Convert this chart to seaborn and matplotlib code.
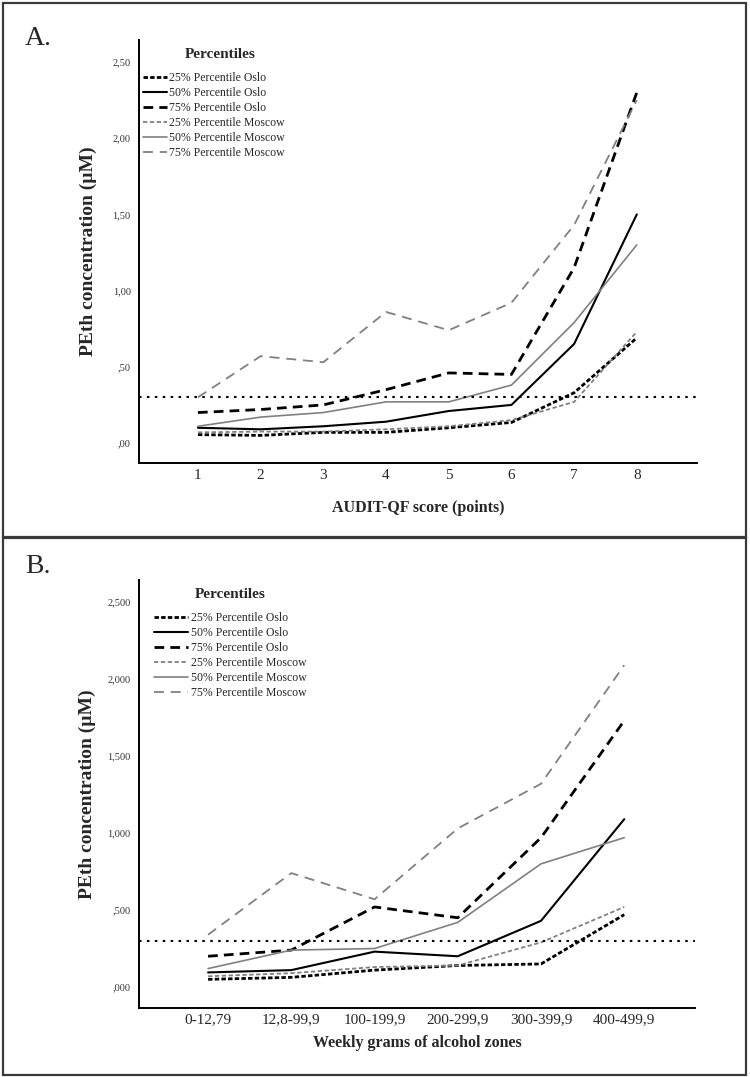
import matplotlib
matplotlib.use("Agg")
import matplotlib.pyplot as plt
from matplotlib.patches import Rectangle
import pandas as pd
import seaborn as sns

# Panel A - AUDIT-QF score (points)
audit_scores = [1, 2, 3, 4, 5, 6, 7, 8]
a_p25_oslo = [0.055, 0.05, 0.07, 0.07, 0.10, 0.135, 0.33, 0.69]
a_p50_oslo = [0.10, 0.09, 0.11, 0.14, 0.21, 0.25, 0.65, 1.50]
a_p75_oslo = [0.20, 0.22, 0.25, 0.35, 0.46, 0.45, 1.15, 2.30]
a_p25_moscow = [0.07, 0.075, 0.075, 0.09, 0.11, 0.15, 0.27, 0.73]
a_p50_moscow = [0.11, 0.17, 0.20, 0.27, 0.27, 0.38, 0.79, 1.30]
a_p75_moscow = [0.30, 0.57, 0.53, 0.86, 0.74, 0.92, 1.43, 2.25]
a_yticklabels = [",00", ",50", "1,00", "1,50", "2,00", "2,50"]

# Panel B - weekly grams of alcohol
alcohol_zones = ["0-12,79", "12,8-99,9", "100-199,9", "200-299,9", "300-399,9", "400-499,9"]
b_p25_oslo = [0.05, 0.063, 0.11, 0.14, 0.15, 0.47]
b_p50_oslo = [0.095, 0.11, 0.23, 0.20, 0.43, 1.09]
b_p75_oslo = [0.20, 0.24, 0.52, 0.45, 0.97, 1.73]
b_p25_moscow = [0.07, 0.09, 0.13, 0.14, 0.29, 0.52]
b_p50_moscow = [0.12, 0.24, 0.25, 0.42, 0.80, 0.97]
b_p75_moscow = [0.34, 0.74, 0.57, 1.03, 1.32, 2.09]
b_yticklabels = [",000", ",500", "1,000", "1,500", "2,000", "2,500"]

series_names = ["25% Percentile Oslo", "50% Percentile Oslo", "75% Percentile Oslo",
                "25% Percentile Moscow", "50% Percentile Moscow", "75% Percentile Moscow"]
ytick_values = [0, 0.5, 1.0, 1.5, 2.0, 2.5]
cutoff = 0.3

GRAY = "#808080"
palette = {series_names[0]: "black", series_names[1]: "black", series_names[2]: "black",
           series_names[3]: GRAY, series_names[4]: GRAY, series_names[5]: GRAY}
sizes = {series_names[0]: 2.0, series_names[1]: 1.5, series_names[2]: 2.0,
         series_names[3]: 1.3, series_names[4]: 1.2, series_names[5]: 1.3}
dashes = {series_names[0]: (1.6, 0.8), series_names[1]: "", series_names[2]: (3.5, 2.2),
          series_names[3]: (2.4, 1.4), series_names[4]: "", series_names[5]: (5.5, 3.8)}


def long_df(x, cols):
    rows = []
    for name, vals in zip(series_names, cols):
        for xi, v in zip(x, vals):
            rows.append({"x": xi, "value": v, "series": name})
    return pd.DataFrame(rows)


sns.set_style("white")
plt.rcParams["font.family"] = ["Liberation Serif", "DejaVu Serif"]

W, H = 750, 1077
fig = plt.figure(figsize=(7.5, 10.77), dpi=100)


def fx(px):
    return px / W


def fy(py):
    return 1 - py / H


def draw_panel(ax, df, letter, letter_y, xlabel, yticklabels, leg_top, handlelen, leg_x,
               title_xy):
    sns.lineplot(data=df, x="x", y="value", hue="series", style="series", size="series",
                 palette=palette, sizes=sizes, dashes=dashes, sort=False, ax=ax, legend="full")
    ax.axhline(cutoff, color="black", lw=1.5, dashes=(1.2, 2.6))
    sns.despine(ax=ax)
    for s in ["left", "bottom"]:
        ax.spines[s].set_linewidth(1.4)
        ax.spines[s].set_color("black")
    ax.tick_params(length=0)
    ax.set_yticks(ytick_values)
    ax.set_yticklabels(yticklabels, fontsize=7.5, color="#333333")
    ax.tick_params(axis="y", pad=6)
    ax.tick_params(axis="x", labelsize=11, pad=4)
    ax.set_ylabel("PEth concentration (\u00b5M)", fontsize=14, fontweight="bold")
    ax.set_xlabel(xlabel, fontsize=11.5, fontweight="bold")

    old = ax.get_legend()
    handles = old.legend_handles
    labels = [t.get_text() for t in old.get_texts()]
    old.remove()
    ax.legend(handles, labels, loc="upper left",
              bbox_to_anchor=(fx(leg_x), fy(leg_top)), bbox_transform=fig.transFigure,
              frameon=False, fontsize=8.5,
              handlelength=handlelen, handletextpad=0.2, labelspacing=0.26, borderpad=0,
              borderaxespad=0)
    fig.text(fx(title_xy[0]), fy(title_xy[1]), "Percentiles", fontsize=11, fontweight="bold",
             ha="center", va="center")
    fig.text(fx(25), fy(letter_y), letter, fontsize=20, va="baseline", ha="left")


# Panel A
axA = fig.add_axes([fx(139), fy(463), fx(697) - fx(139), fy(40) - fy(463)])
dfA = long_df(audit_scores, [a_p25_oslo, a_p50_oslo, a_p75_oslo,
                             a_p25_moscow, a_p50_moscow, a_p75_moscow])
draw_panel(axA, dfA, "A.", 45, "AUDIT-QF score (points)", a_yticklabels, 72, 2.0, 143, (220, 55))
axA.set_xticks(audit_scores)
axA.set_xlim(0.06, 8.96)
axA.set_ylim(-0.131, 2.644)
axA.xaxis.set_label_coords(0.5, (fy(508) - fy(463)) / (fy(40) - fy(463)))
axA.yaxis.set_label_coords((88 - 139) / (697 - 139), 0.5)
axA.yaxis.label.set_va("center")

# Panel B
axB = fig.add_axes([fx(139), fy(1008), fx(695) - fx(139), fy(580) - fy(1008)])
dfB = long_df(alcohol_zones, [b_p25_oslo, b_p50_oslo, b_p75_oslo,
                              b_p25_moscow, b_p50_moscow, b_p75_moscow])
draw_panel(axB, dfB, "B.", 573, "Weekly grams of alcohol zones", b_yticklabels, 612, 2.9, 154,
           (230, 595))
axB.set_xlim(-0.83, 5.85)
axB.set_ylim(-0.136, 2.643)
axB.xaxis.set_label_coords(0.5, (fy(1043) - fy(1008)) / (fy(580) - fy(1008)))
axB.yaxis.set_label_coords((87 - 139) / (695 - 139), 0.5)
axB.yaxis.label.set_va("center")
for ax in (axA, axB):
    ax.xaxis.label.set_va("center")

# panel borders
for top, bottom in [(3, 537), (538, 1075)]:
    fig.add_artist(Rectangle((fx(3), fy(bottom)), fx(746) - fx(3), fy(top) - fy(bottom),
                             transform=fig.transFigure, fill=False, lw=1.6, ec="#3a3a3a"))

fig.savefig("out.png", dpi=100)
